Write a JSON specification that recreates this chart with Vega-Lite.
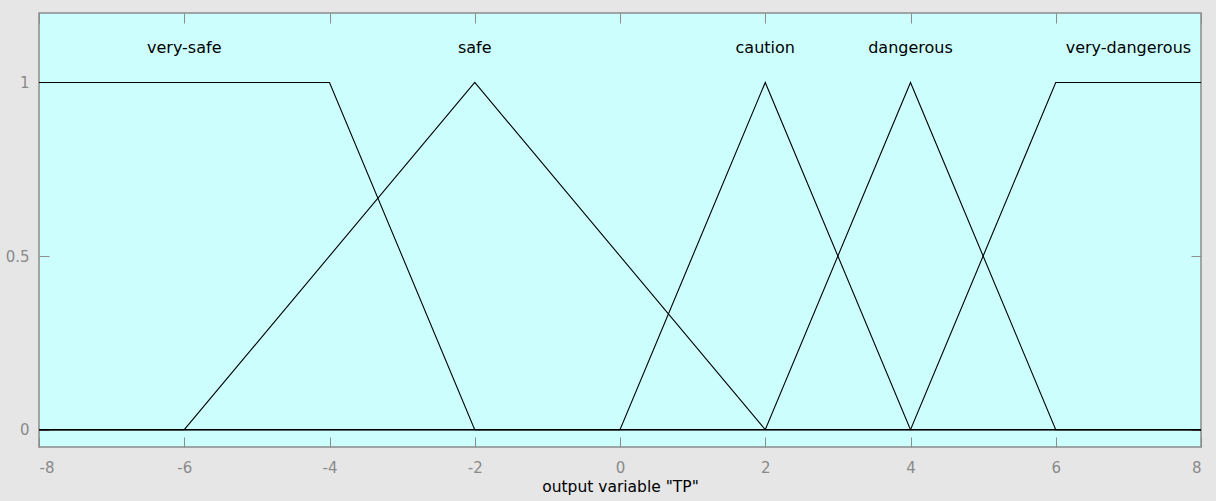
{
  "$schema": "https://vega.github.io/schema/vega-lite/v6.json",
  "autosize": {"type": "none"},
  "padding": {"left": 39, "top": 13, "right": 15, "bottom": 54},
  "width": 1162,
  "height": 434,
  "background": "#e6e6e6",
  "config": {
    "view": {"fill": "#ccfefe", "stroke": "#8c8c8c", "strokeWidth": 1.5},
    "font": "DejaVu Sans",
    "axis": {
      "grid": false,
      "domain": false,
      "tickColor": "#8c8c8c",
      "tickSize": -10,
      "labelColor": "#8a8a8a",
      "labelFont": "DejaVu Sans",
      "labelFontSize": 15,
      "titleFont": "DejaVu Sans",
      "titleFontSize": 15.5,
      "titleFontWeight": "normal",
      "titleColor": "#000000",
      "labelExpr": "'' + datum.value"
    }
  },
  "datasets": {
    "mf": [
      {"mf": "very-safe", "x": -8, "y": 1, "k": 0},
      {"mf": "very-safe", "x": -4, "y": 1, "k": 1},
      {"mf": "very-safe", "x": -2, "y": 0, "k": 2},
      {"mf": "very-safe", "x": 8, "y": 0, "k": 3},
      {"mf": "safe", "x": -8, "y": 0, "k": 0},
      {"mf": "safe", "x": -6, "y": 0, "k": 1},
      {"mf": "safe", "x": -2, "y": 1, "k": 2},
      {"mf": "safe", "x": 2, "y": 0, "k": 3},
      {"mf": "safe", "x": 8, "y": 0, "k": 4},
      {"mf": "caution", "x": -8, "y": 0, "k": 0},
      {"mf": "caution", "x": 0, "y": 0, "k": 1},
      {"mf": "caution", "x": 2, "y": 1, "k": 2},
      {"mf": "caution", "x": 4, "y": 0, "k": 3},
      {"mf": "caution", "x": 8, "y": 0, "k": 4},
      {"mf": "dangerous", "x": -8, "y": 0, "k": 0},
      {"mf": "dangerous", "x": 2, "y": 0, "k": 1},
      {"mf": "dangerous", "x": 4, "y": 1, "k": 2},
      {"mf": "dangerous", "x": 6, "y": 0, "k": 3},
      {"mf": "dangerous", "x": 8, "y": 0, "k": 4},
      {"mf": "very-dangerous", "x": -8, "y": 0, "k": 0},
      {"mf": "very-dangerous", "x": 4, "y": 0, "k": 1},
      {"mf": "very-dangerous", "x": 6, "y": 1, "k": 2},
      {"mf": "very-dangerous", "x": 8, "y": 1, "k": 3}
    ],
    "names": [
      {"mf": "very-safe", "x": -6, "y": 1.1},
      {"mf": "safe", "x": -2, "y": 1.1},
      {"mf": "caution", "x": 2, "y": 1.1},
      {"mf": "dangerous", "x": 4, "y": 1.1},
      {"mf": "very-dangerous", "x": 7, "y": 1.1}
    ]
  },
  "layer": [
    {
      "data": {"name": "mf"},
      "mark": {"type": "line", "color": "#000000", "strokeWidth": 1.1, "clip": true},
      "encoding": {
        "x": {
          "field": "x", "type": "quantitative",
          "scale": {"domain": [-8, 8], "nice": false, "zero": false},
          "axis": {"values": [-8, -6, -4, -2, 0, 2, 4, 6, 8], "title": "output variable \"TP\"", "labelPadding": 23, "titlePadding": 4}
        },
        "y": {
          "field": "y", "type": "quantitative",
          "scale": {"domain": [-0.05, 1.2], "nice": false, "zero": false},
          "axis": {"values": [0, 0.5, 1], "title": null, "labelPadding": 20}
        },
        "detail": {"field": "mf"},
        "order": {"field": "k"}
      }
    },
    {
      "data": {"name": "names"},
      "mark": {"type": "text", "fontSize": 16, "letterSpacing": 1.5, "color": "#000000", "baseline": "middle", "align": "center"},
      "encoding": {
        "x": {"field": "x", "type": "quantitative", "axis": {"orient": "top", "values": [-8, -6, -4, -2, 0, 2, 4, 6, 8], "labels": false, "title": null}},
        "y": {"field": "y", "type": "quantitative", "axis": {"orient": "right", "values": [0, 0.5, 1], "labels": false, "title": null}},
        "text": {"field": "mf"}
      }
    }
  ],
  "resolve": {"axis": {"x": "independent", "y": "independent"}}
}
